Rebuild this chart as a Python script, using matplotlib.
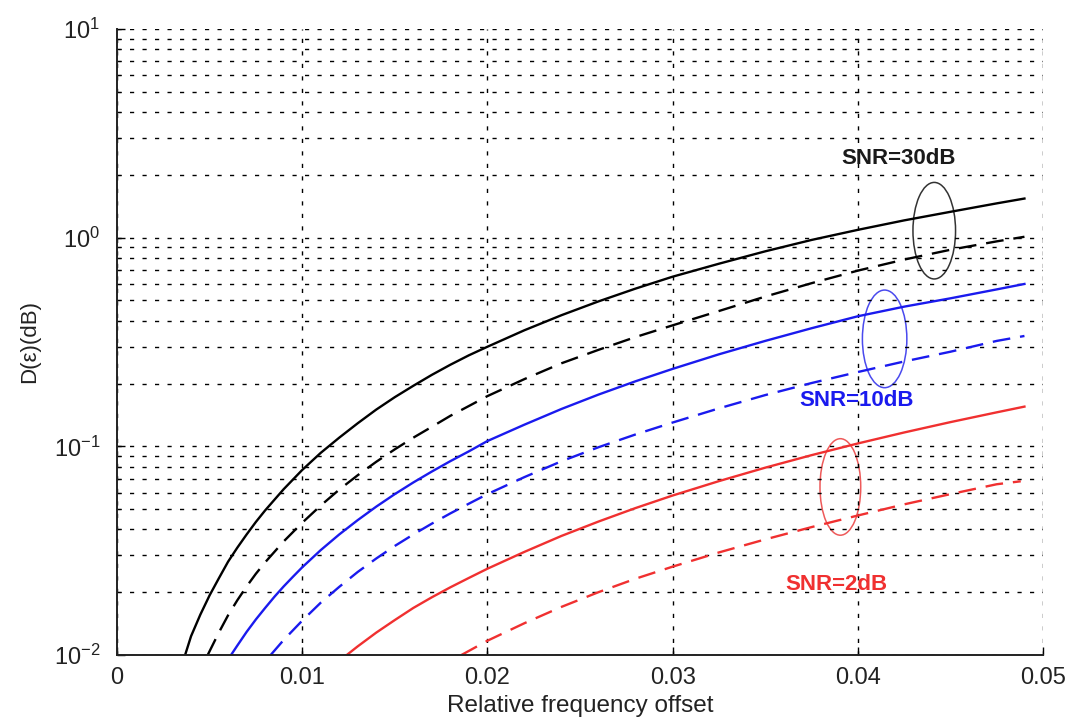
import numpy as np
import matplotlib
matplotlib.use("Agg")
import matplotlib.pyplot as plt
from matplotlib.patches import Ellipse

plt.rcParams['font.family'] = ['Liberation Sans', 'DejaVu Sans']
plt.rcParams['mathtext.default'] = 'regular'

# ---- data: relative frequency offset -> D(eps) ----
black_solid_x = [0.00368, 0.0040, 0.0045, 0.0050, 0.0055, 0.0060, 0.0065, 0.0070, 0.0075,
                 0.0080, 0.0090, 0.0100, 0.0110, 0.0120, 0.0130, 0.0140, 0.0150, 0.0160,
                 0.0170, 0.0180, 0.0190, 0.0200, 0.0220, 0.0240, 0.0260, 0.0280, 0.0300,
                 0.0325, 0.0350, 0.0375, 0.0400, 0.0425, 0.0450, 0.0475, 0.0490]
black_solid_y = [0.0100, 0.0123, 0.0156, 0.0193, 0.0233, 0.0280, 0.0327, 0.0378, 0.0434,
                 0.0493, 0.0623, 0.0770, 0.0930, 0.110, 0.129, 0.150, 0.172, 0.195,
                 0.220, 0.246, 0.273, 0.300, 0.360, 0.425, 0.495, 0.570, 0.650,
                 0.750, 0.860, 0.975, 1.090, 1.210, 1.330, 1.460, 1.540]

black_dash_x = [0.00490, 0.0055, 0.0060, 0.0065, 0.0070, 0.0075, 0.0080, 0.0090, 0.0100,
                0.0110, 0.0120, 0.0130, 0.0140, 0.0150, 0.0160, 0.0170, 0.0180, 0.0190,
                0.0200, 0.0220, 0.0240, 0.0260, 0.0280, 0.0300, 0.0325, 0.0350, 0.0375,
                0.0400, 0.0425, 0.0450, 0.0475, 0.0490]
black_dash_y = [0.0100, 0.0128, 0.0155, 0.0183, 0.0213, 0.0245, 0.0278, 0.0350, 0.0430,
                0.0520, 0.0620, 0.0727, 0.0843, 0.0967, 0.110, 0.124, 0.140, 0.156,
                0.174, 0.210, 0.250, 0.290, 0.334, 0.380, 0.445, 0.522, 0.605,
                0.695, 0.785, 0.875, 0.960, 1.010]

blue_solid_x = [0.00616, 0.0065, 0.0070, 0.0075, 0.0080, 0.0085, 0.0090, 0.0095, 0.0100,
                0.0110, 0.0120, 0.0130, 0.0140, 0.0150, 0.0160, 0.0170, 0.0180, 0.0190,
                0.0200, 0.0220, 0.0240, 0.0260, 0.0280, 0.0300, 0.0325, 0.0350, 0.0375,
                0.0400, 0.0425, 0.0450, 0.0475, 0.0490]
blue_solid_y = [0.0100, 0.0111, 0.0129, 0.0148, 0.0168, 0.0190, 0.0213, 0.0237, 0.0263,
                0.0318, 0.0378, 0.0443, 0.0514, 0.0590, 0.0671, 0.0757, 0.0849, 0.0946,
                0.106, 0.127, 0.151, 0.177, 0.205, 0.235, 0.276, 0.320, 0.368,
                0.420, 0.467, 0.512, 0.565, 0.600]

blue_dash_x = [0.00830, 0.0090, 0.0100, 0.0110, 0.0120, 0.0130, 0.0140, 0.0150, 0.0160,
               0.0170, 0.0180, 0.0190, 0.0200, 0.0220, 0.0240, 0.0260, 0.0280, 0.0300,
               0.0325, 0.0350, 0.0375, 0.0400, 0.0425, 0.0450, 0.0475, 0.0490]
blue_dash_y = [0.0100, 0.0118, 0.0146, 0.0178, 0.0212, 0.0250, 0.0290, 0.0333, 0.0378,
               0.0426, 0.0477, 0.0531, 0.0590, 0.0712, 0.0848, 0.0990, 0.114, 0.130,
               0.152, 0.176, 0.201, 0.227, 0.255, 0.284, 0.320, 0.338]

red_solid_x = [0.01241, 0.0130, 0.0140, 0.0150, 0.0160, 0.0170, 0.0180, 0.0190, 0.0200,
               0.0220, 0.0240, 0.0260, 0.0280, 0.0300, 0.0325, 0.0350, 0.0375, 0.0400,
               0.0425, 0.0450, 0.0475, 0.0490]
red_solid_y = [0.0100, 0.0110, 0.0128, 0.0147, 0.0168, 0.0189, 0.0211, 0.0234, 0.0259,
               0.0312, 0.0372, 0.0436, 0.0506, 0.0581, 0.0681, 0.0790, 0.0907, 0.1032,
               0.1165, 0.1306, 0.1455, 0.1550]

red_dash_x = [0.01860, 0.0200, 0.0220, 0.0240, 0.0260, 0.0280, 0.0300, 0.0325, 0.0350,
              0.0375, 0.0400, 0.0425, 0.0450, 0.0475, 0.0488]
red_dash_y = [0.0100, 0.0117, 0.0142, 0.0170, 0.0200, 0.0232, 0.0265, 0.0310, 0.0358,
              0.0410, 0.0466, 0.0527, 0.0590, 0.0658, 0.0680]

# SNR groups: label, text position, ellipse (eps left, eps right, D low, D high)
snr_labels = ['SNR=30dB', 'SNR=10dB', 'SNR=2dB']
snr_text_pos = [(0.04222, 2.39), (0.03995, 0.166), (0.03884, 0.0218)]
snr_ellipse = [(0.04298, 0.04528, 0.634, 1.84),
               (0.04025, 0.04265, 0.191, 0.561),
               (0.03796, 0.04016, 0.0375, 0.1088)]

x_ticks = [0, 0.01, 0.02, 0.03, 0.04, 0.05]
x_tick_labels = ['0', '0.01', '0.02', '0.03', '0.04', '0.05']

XMIN, XMAX = 0.0, 0.05
YMIN, YMAX = 1e-2, 1e1

# ---- figure ----
fig = plt.figure(figsize=(10.77, 7.2), dpi=100)
ax = fig.add_axes([0.1086, 0.0903, 0.8598, 0.8694])

BLUE = '#1a1aee'
RED = '#f03030'
lw = 1.7
dash = (7.5, 4.2)

ax.plot(black_solid_x, black_solid_y, color='black', lw=lw)
ax.plot(black_dash_x, black_dash_y, color='black', lw=lw, linestyle=(0, dash))
ax.plot(blue_solid_x, blue_solid_y, color=BLUE, lw=lw)
ax.plot(blue_dash_x, blue_dash_y, color=BLUE, lw=lw, linestyle=(0, dash))
ax.plot(red_solid_x, red_solid_y, color=RED, lw=lw)
ax.plot(red_dash_x, red_dash_y, color=RED, lw=lw, linestyle=(0, dash))

ax.set_yscale('log')
ax.set_xlim(XMIN, XMAX)
ax.set_ylim(YMIN, YMAX)

# ellipses in axes fraction so they stay elliptical on the log axis
ell_colors = ['#333333', '#4a4aee', '#ee5a5a']
lmin, lmax = np.log10(YMIN), np.log10(YMAX)
for (x0, x1, y0, y1), c in zip(snr_ellipse, ell_colors):
    fx0 = (x0 - XMIN) / (XMAX - XMIN)
    fx1 = (x1 - XMIN) / (XMAX - XMIN)
    fy0 = (np.log10(y0) - lmin) / (lmax - lmin)
    fy1 = (np.log10(y1) - lmin) / (lmax - lmin)
    e = Ellipse(((fx0 + fx1) / 2, (fy0 + fy1) / 2), fx1 - fx0, fy1 - fy0,
                transform=ax.transAxes, fill=False, edgecolor=c, lw=1.1)
    ax.add_patch(e)

for lab, (tx, ty), c in zip(snr_labels, snr_text_pos, ['#1a1a1a', BLUE, RED]):
    ax.text(tx, ty, lab, color=c, fontsize=16, fontweight='bold',
            ha='center', va='center')

# dotted grid like the MATLAB original
grid_style = dict(color='black', linestyle=(0, (3, 6)), linewidth=1.0)
ax.grid(True, which='major', axis='both', **grid_style)
ax.grid(True, which='minor', axis='y', **grid_style)

ax.set_xticks(x_ticks)
ax.set_xticklabels(x_tick_labels)
ax.tick_params(which='major', direction='in', length=6, width=1,
               labelsize=17, labelcolor='#222222', pad=9)
ax.tick_params(axis='y', which='major', pad=12)
ax.tick_params(which='minor', direction='in', length=3, width=0.8)
ax.tick_params(axis='x', which='minor', bottom=False)

for s in ['top', 'right']:
    ax.spines[s].set_visible(False)
for s in ['left', 'bottom']:
    ax.spines[s].set_linewidth(1.4)
    ax.spines[s].set_color('#222222')

ax.set_xlabel('Relative frequency offset', fontsize=17.5, color='#222222', labelpad=4)
ax.set_ylabel('D(ε)(dB)', fontsize=16, color='#222222', labelpad=10)

fig.savefig('out.png', dpi=100)
